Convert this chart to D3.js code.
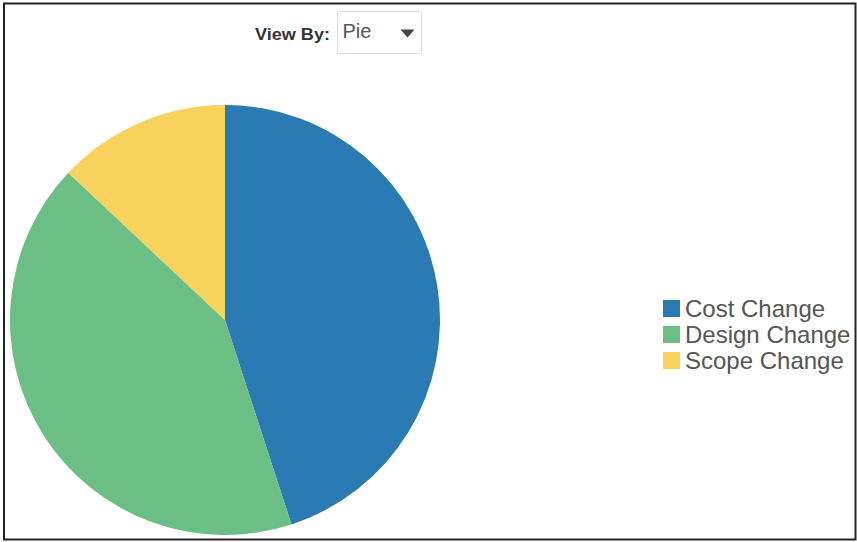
<!DOCTYPE html>
<html>
<head>
<meta charset="utf-8">
<script src="https://cdn.jsdelivr.net/npm/d3@7"></script>
<style>
  body { margin: 0; background: #fff; }
  svg { display: block; font-family: Arial, "Liberation Sans", sans-serif; }
</style>
</head>
<body>
<script>
var categories = ["Cost Change", "Design Change", "Scope Change"];
var values = [45, 42, 13];
var colors = ["#2a7bb3", "#6bbf84", "#f8d25c"];
var viewOptions = ["Pie"];

var width = 857, height = 542;

var svg = d3.select("body")
      .append("svg")
      .attr("width", width)
      .attr("height", height)

// frame
svg.append("rect")
  .attr("x", 4).attr("y", 3.5)
  .attr("width", 851.5).attr("height", 536)
  .attr("fill", "none")
  .attr("stroke", "#222")
  .attr("stroke-width", 2)

// view by control
svg.append("text")
  .attr("x", 330).attr("y", 40)
  .attr("text-anchor", "end")
  .attr("font-size", 17)
  .attr("font-weight", "bold")
  .attr("fill", "#333")
  .attr("textLength", 75)
  .attr("lengthAdjust", "spacingAndGlyphs")
  .text("View By:")

var sel = svg.append("g").attr("transform", "translate(337.5,11.5)")
sel.append("rect")
  .attr("width", 84).attr("height", 42)
  .attr("rx", 2)
  .attr("fill", "#fff")
  .attr("stroke", "#ddd")
sel.append("text")
  .attr("x", 5).attr("y", 26)
  .attr("font-size", 20)
  .attr("fill", "#555")
  .text(viewOptions[0])
sel.append("path")
  .attr("d", "M63,18 L77,18 L70,26 Z")
  .attr("fill", "#444")

// pie
var pie = d3.pie().sort(null).value(function(d){ return d; });
var arc = d3.arc().innerRadius(0).outerRadius(215);

var g = svg.append("g")
  .attr("class", "slices")
  .attr("transform", "translate(225,320)")

g.selectAll("path")
  .data(pie(values))
  .enter().append("path")
  .attr("d", arc)
  .attr("fill", function(d, i){ return colors[i]; })

// legend
var y = d3.scaleBand()
  .domain(categories)
  .range([296, 374])

var legend = svg.append("g")
  .attr("class", "legend")
  .selectAll("g")
  .data(categories)
  .enter().append("g")
  .attr("transform", function(d){ return "translate(663," + y(d) + ")"; })

legend.append("rect")
  .attr("y", 4)
  .attr("width", 17).attr("height", 17)
  .attr("fill", function(d, i){ return colors[i]; })

legend.append("text")
  .attr("x", 22).attr("y", 21)
  .attr("font-size", 24)
  .attr("fill", "#555")
  .text(function(d){ return d; })
</script>
</body>
</html>
